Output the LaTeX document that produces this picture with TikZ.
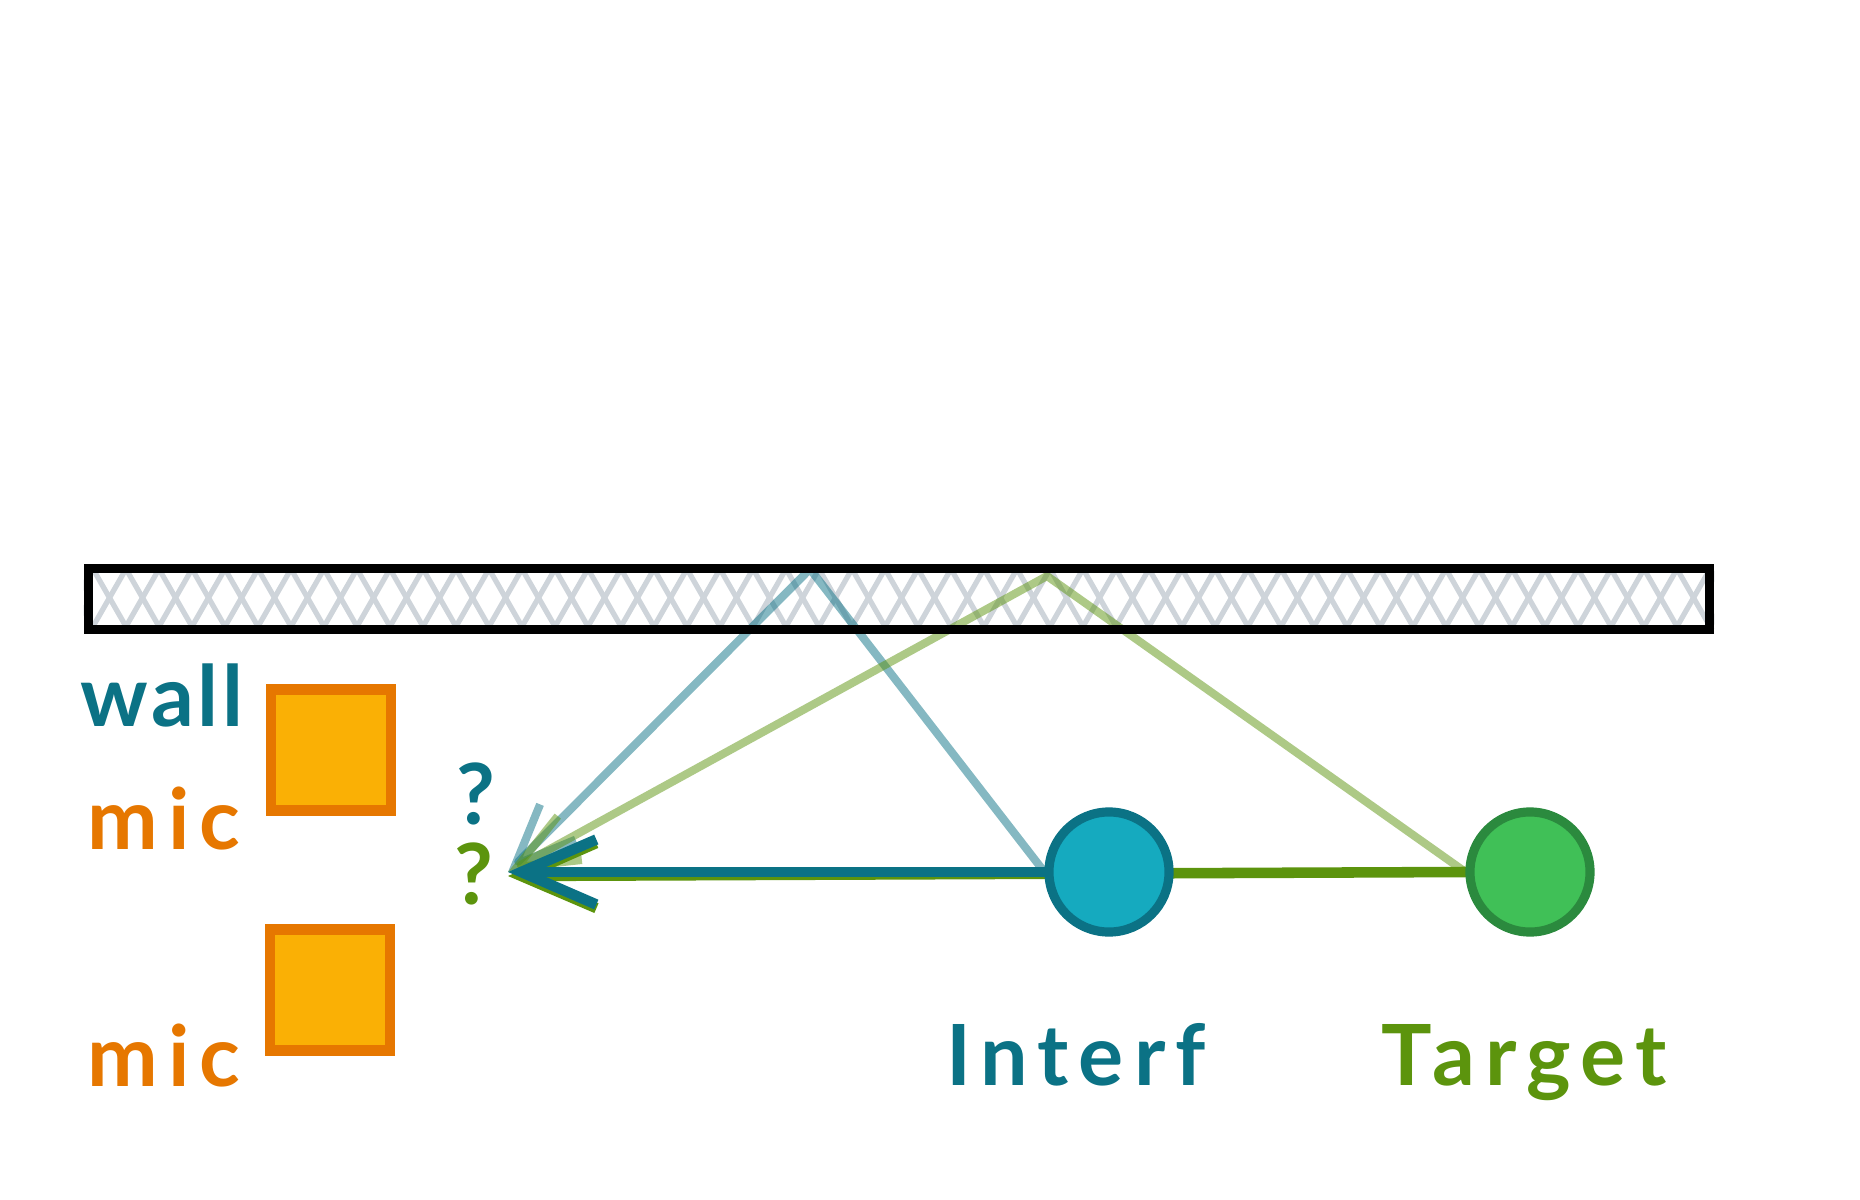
\documentclass[tikz,border=0pt]{standalone}
\usepackage{fontspec}
\newfontfamily\handfont[LetterSpace=12]{Lato}
\newfontfamily\handfonttight[LetterSpace=4]{Lato}
\usepackage{tikz}
\usetikzlibrary{positioning}
\usetikzlibrary{arrows.meta}

\definecolor{tealdark}{HTML}{0B7285}
\definecolor{tealfill}{HTML}{15AABF}
\definecolor{limedark}{HTML}{5C940D}
\definecolor{greendark}{HTML}{2B8A3E}
\definecolor{greenfill}{HTML}{40C057}
\definecolor{micorange}{HTML}{E67700}
\definecolor{micfill}{HTML}{FAB005}
\definecolor{hatchgray}{HTML}{CED4DA}

\pgfdeclarelayer{back}
\pgfsetlayers{back,main}

\tikzset{
    direct/.style={line width=3pt,line cap=round,-{Straight Barb[length=7.5mm,width=6.5mm]}},
    reflect/.style={line width=2.3pt,draw opacity=0.5,line cap=round,line join=round,-{Straight Barb[length=6mm,width=5mm]}}
}

\begin{document}
\begin{tikzpicture}[x=0.01cm,y=-0.01cm]
            \useasboundingbox (0,0) rectangle (1860,1200);

            \node (wall) at (899,599) [draw,line width=2.8pt,minimum width=16.2cm,minimum height=0.61cm,inner sep=0pt] {};

            \begin{pgfonlayer}{back}
                \begin{scope}
                    \clip (wall.south west) rectangle (wall.north east);
                    \foreach \x in {60,93,...,1760} {
                        \draw [hatchgray,line width=1.5pt] (\x,569) -- ++(35,61);
                        \draw [hatchgray,line width=1.5pt] (\x,569) -- ++(-35,61);
                    }
                \end{scope}
            \end{pgfonlayer}

            \begin{scope}[every node/.style={rectangle,draw=micorange,fill=micfill,line width=3pt,minimum width=1.2cm,minimum height=1.21cm}]
                \node (mic1) at (331,750) {};
                \node (mic2) at (330,990) {};
            \end{scope}

            \begin{scope}[every node/.style={circle,line width=2.6pt,minimum size=1.2cm}]
                \node (interf) at (1109,872) [draw=tealdark,fill=tealfill] {};
                \node (target) at (1530,872) [draw=greendark,fill=greenfill] {};
            \end{scope}

            \coordinate (tip) at (508,872);
            \coordinate (tipg) at (508,876);
            \coordinate (rt) at (810,569);
            \coordinate (rg) at (1047,576);

            \begin{scope}[every node/.style={font=\handfont\bfseries\fontsize{24}{28}\selectfont,anchor=base,inner sep=0pt}]
                \node (walllabel) at (162,726) [text=tealdark,font=\handfonttight\bfseries\fontsize{24}{28}\selectfont] {wall};
                \node (miclabel1) at (164,849) [text=micorange] {mic};
                \node (miclabel2) at (164,1086) [text=micorange] {mic};
                \node (qinterf) at (476,824) [text=tealdark] {?};
                \node (qtarget) at (474,904) [text=limedark] {?};
                \node (interflabel) at (1076,1085) [text=tealdark] {Interf};
                \node (targetlabel) at (1524,1085) [text=limedark] {Target};
            \end{scope}

            \begin{pgfonlayer}{back}
                \draw [reflect,draw=tealdark] (interf.west) -- (rt) -- (tip);
                \draw [reflect,draw=limedark] (target.west) -- (rg) -- (tip);
                \path (target.west) edge [direct,draw=limedark] (tipg);
                \path (interf.west) edge [direct,draw=tealdark] (tip);
            \end{pgfonlayer}
        \end{tikzpicture}
\end{document}
